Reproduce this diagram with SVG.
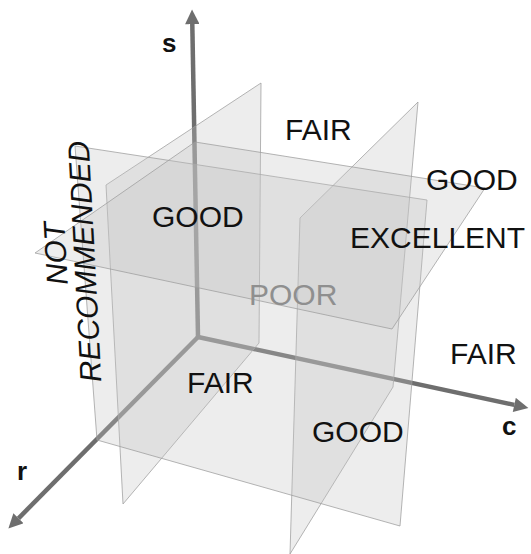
<svg xmlns="http://www.w3.org/2000/svg" width="531" height="554" viewBox="0 0 531 554">
<style>
.plane{fill:#c2c2c2;fill-opacity:0.3;stroke:#9c9c9c;stroke-opacity:0.75;stroke-width:1}
.axis{stroke:#6e6e6e;stroke-width:4.5;fill:none}
.lbl{font-family:"Liberation Sans",Arial,sans-serif;font-size:30px;fill:#111}
.ax{font-family:"Liberation Sans",Arial,sans-serif;font-size:26px;font-weight:bold;fill:#111}
</style>
<defs>
<marker id="ah" viewBox="0 0 10 10" refX="0" refY="5" markerWidth="3.4" markerHeight="3.2" orient="auto" markerUnits="strokeWidth">
<path d="M0,0 L10,5 L0,10 z" fill="#6e6e6e"/>
</marker>
</defs>
<g id="axes">
<line class="axis" x1="198" y1="337" x2="192.3" y2="24" marker-end="url(#ah)"/>
<line class="axis" x1="198" y1="337" x2="18.5" y2="518.3" marker-end="url(#ah)"/>
<line class="axis" x1="198" y1="337" x2="514.3" y2="404.9" marker-end="url(#ah)"/>
</g>
<g id="planes">
<polygon id="plane-c1" class="plane" points="261,83 106,185 123,504 259,343"/>
<polygon id="plane-c2" class="plane" points="418,102 300,218 290,554 393,387"/>
<polygon id="plane-r" class="plane" points="75,146 427,200 400,526 97,440"/>
<polygon id="plane-s" class="plane" points="195,142 485,188 392,329 35,253"/>
</g>
<g id="axis-labels">
<text class="ax" x="162" y="52">s</text>
<text class="ax" x="17" y="480">r</text>
<text class="ax" x="502" y="435">c</text>
</g>
<g id="regions">
<text class="lbl" x="285" y="140">FAIR</text>
<text class="lbl" x="426" y="190">GOOD</text>
<text class="lbl" x="152" y="227">GOOD</text>
<text class="lbl" x="350" y="248">EXCELLENT</text>
<text class="lbl" x="249" y="305" fill="#8f8f8f" style="fill:#8f8f8f">POOR</text>
<text class="lbl" x="187" y="393">FAIR</text>
<text class="lbl" x="450" y="364">FAIR</text>
<text class="lbl" x="312" y="442">GOOD</text>
<text class="lbl" text-anchor="middle" font-style="italic" transform="translate(66,253) rotate(-93)">NOT</text>
<text class="lbl" text-anchor="middle" font-style="italic" transform="translate(95,261) rotate(-93)">RECOMMENDED</text>
</g>
</svg>
